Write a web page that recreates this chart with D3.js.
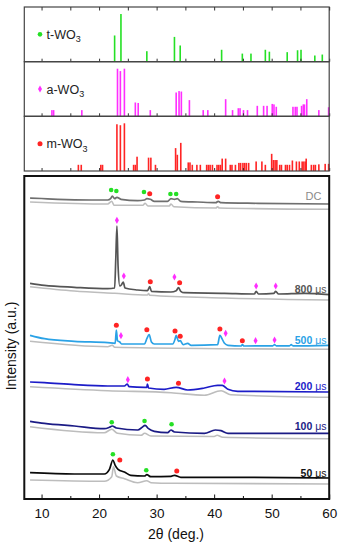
<!DOCTYPE html>
<html>
<head>
<meta charset="utf-8">
<script src="https://cdn.jsdelivr.net/npm/d3@7"></script>
<style>
    body { margin: 0; background: #fff; }
    svg text { font-family: Arial, "Liberation Sans", sans-serif; }
</style>
</head>
<body>
<div id="chart"></div>
<script>
// reference sticks: [2theta, relative intensity %]
var tSticks = [[22.7,55],[23.8,100],[28.3,22],[33.1,52],[34.1,34],[41.3,25],[44.9,17],[46.4,17],[48.9,25],[49.6,21],
    [52.7,20],[54.5,24],[55.1,25],[57.5,13],[58.8,15]];
var aSticks = [[11.8,13],[12.1,13],[17.0,13],[23.2,100],[23.7,95],[24.4,100],[26.3,29],[26.8,28],[28.9,13],[33.4,50],
    [33.9,53],[34.3,52],[35.7,34],[38.1,13],[38.9,13],[42.0,36],[43.2,13],[44.2,17],[44.5,17],[45.1,13],[45.8,13],
    [47.5,22],[48.6,22],[49.2,22],[50.1,26],[50.4,25],[50.8,20],[53.7,20],[54.1,20],[54.4,20],[55.2,22],[55.5,25],
    [55.7,25],[56.1,36],[58.2,13],[59.9,19]];
var mSticks = [[16.4,13],[16.9,13],[20.3,13],[20.6,13],[23.1,98],[23.7,96],[24.4,100],[26.0,13],[26.3,13],[26.6,30],
    [28.6,28],[29.0,28],[29.8,13],[33.3,48],[33.6,34],[34.2,59],[35.5,18],[35.8,18],[36.2,13],[37.0,13],[37.6,13],
    [38.7,13],[39.0,13],[39.3,13],[39.7,13],[40.5,13],[40.8,13],[41.1,13],[41.4,26],[42.0,26],[42.8,13],[43.1,13],
    [43.7,13],[44.3,17],[44.6,17],[45.0,17],[45.3,17],[45.6,17],[46.0,17],[47.3,20],[48.3,20],[48.9,13],[50.0,36],
    [50.3,23],[50.6,23],[50.9,23],[51.4,13],[51.7,13],[52.4,13],[52.7,13],[53.1,13],[53.6,22],[54.3,20],[54.8,20],
    [55.3,20],[55.6,20],[55.9,20],[56.0,26],[56.9,13],[57.3,13],[57.6,13],[58.2,14],[59.3,15],[59.9,15]];
var stickNames = ["t-WO", "a-WO", "m-WO"];

// measured patterns (offset intensity, a.u.)
var dcLine = [[8,301],[10,300.5],[12.8,299.7],[18.6,299],[21.5,299],[22.0,300.3],[22.3,303],[22.7,300.3],[23.1,301.7],
    [23.8,299.7],[26.7,298.3],[27.9,299],[28.3,300.3],[28.9,299.7],[29.6,297.7],[31.9,297.7],[32.5,300.3],[33.1,299.7],
    [33.6,300.3],[34.2,297.7],[37.1,297],[40.3,296.3],[40.7,297.7],[41.2,296.3],[47.6,295.7],[60,295]];
var dcRef = [[8,297],[21.5,295],[22.2,297.7],[22.6,293.7],[27.6,293.7],[28.0,295.7],[28.5,293],[32.2,293],[32.5,295],
    [33,292.3],[40.3,291],[40.6,292.3],[40.9,291],[60,289.7]];
var l800 = [[8,215.7],[10.5,213.7],[15.7,211.7],[21.5,210.3],[22.7,211],[22.9,239.7],[23.1,273],[23.3,233],[23.6,213],
    [23.9,214.3],[24.2,217],[24.5,211],[26.7,209],[28.4,208.3],[28.8,212.3],[29.1,207.7],[32.5,207],[33.4,208.3],
    [33.8,211.3],[34.2,207.7],[34.8,206.3],[41.8,205.7],[47.0,205],[47.3,207.7],[47.7,205],[50.4,205.7],[50.7,207.7],
    [51.2,205],[55.7,205.7],[60,204.3]];
var r800 = [[8,212.3],[15.7,208],[22.7,205.7],[28.4,204],[28.6,205.5],[28.8,203.7],[41.8,201],[60,199]];
var l500 = [[8,163.7],[10.5,160.3],[15.7,157.7],[21.5,156.3],[22.8,155.7],[23.0,169],[23.2,158.3],[23.6,157],[23.9,155],
    [27.9,155],[28.3,160.3],[28.7,164.3],[29.1,157],[29.6,155],[32.8,155],[33.2,159.7],[33.4,163.7],[33.8,157.7],
    [34.1,158.3],[34.6,154.3],[35.4,155.7],[36,153.7],[40.6,154.3],[41.0,163.7],[41.3,161],[41.8,155.7],[42.4,153.7],
    [44.7,153],[44.9,154.3],[45.2,153],[50.2,153.2],[50.5,154.3],[50.8,153.2],[53.1,153.2],[53.4,154.3],[53.7,153.2],
    [60,153.7]];
var r500 = [[8,157.7],[21.5,152.3],[22.3,153.7],[22.7,151.7],[41.8,150.3],[60,149.7]];
var l200 = [[8,117],[10.5,116.3],[15.7,114.3],[21.5,113],[24.4,113],[24.9,115],[25.2,112.3],[27.9,111.7],[28.3,111.7],
    [28.4,115],[28.6,111],[31.3,109.7],[33.4,111.7],[35.4,109],[38.3,111],[40.6,113.7],[41.4,113.7],[42.4,109.7],
    [44.1,107.7],[60,107]];
var r200 = [[8,112.3],[21.5,108.3],[32.5,106.3],[38.3,103.7],[41.2,108.3],[42.9,104.3],[60,101.7]];
var l100 = [[8,77.7],[10.5,75.7],[15.7,73],[20.9,70.3],[21.8,71.7],[22.3,73],[23.0,71],[26.7,69],[27.5,71.7],[28.0,73.7],
    [28.6,70.3],[29.6,67.7],[31.9,66.3],[32.5,69],[33.1,67],[38.3,65.7],[40.2,69],[41.2,68.3],[42.4,65.7],[60,65.7]];
var r100 = [[8,72.3],[20.9,66.3],[22.2,69.7],[23.2,65.7],[27.3,63.7],[27.9,65.7],[29,63],[40,62.5],[40.5,63.7],
    [41.5,61.7],[60,60.3]];
var l50 = [[8,26.3],[15.7,25],[20.9,25],[21.8,29.7],[22.4,39],[22.8,33.7],[23.3,29.7],[24.4,27],[25.5,23.7],[27.9,23],
    [28.3,24.3],[29,22.3],[32.5,22.7],[33.1,23.7],[34.2,21.7],[46.4,21.7],[60,21]];
var r50 = [[8,19],[20.9,17.7],[22.2,22.3],[22.5,32.3],[23,23],[24.4,20.3],[26.7,16.3],[28.3,18.3],[29,16.3],[33,15.7],
    [60,15]];

var seriesLabels = ["DC", "800", "500", "200", "100", "50"];

// phase markers: [2theta, level, phase]
var dcMarks = [[22.1,309,"t"],[23.0,308,"t"],[27.8,307,"t"],[28.8,305.3,"m"],[32.4,305,"t"],[33.4,305,"t"],[40.6,302.3,"m"]];
var m800 = [[23.1,278.7,"a"],[24.3,223,"a"],[28.9,217.3,"m"],[33.1,222,"a"],[34.0,216.3,"m"],[47.3,213,"a"],[50.7,213,"a"]];
var m500 = [[23.0,173.7,"m"],[23.8,163.3,"a"],[28.3,169.3,"m"],[33.2,168,"m"],[34.1,162.7,"m"],[41.0,170,"m"],
    [42.0,165.7,"a"],[44.9,158.3,"m"],[47.2,158.3,"a"],[50.5,159,"a"]];
var m200 = [[25.0,119.3,"a"],[28.4,120,"m"],[33.8,115.7,"m"],[41.8,118,"a"]];
var m100 = [[22.2,76.7,"t"],[27.9,78,"t"],[32.6,74.7,"t"]];
var m50 = [[22.4,44.7,"t"],[23.6,39,"m"],[28.2,28.7,"t"],[33.5,28,"m"]];

var xTicks = [10, 20, 30, 40, 50, 60];
var minorTicks = [15, 25, 35, 45, 55];

var w = 351, h = 550;
var svg = d3.select("#chart").append("svg")
    .attr("width", w)
    .attr("height", h);

var x = d3.scaleLinear().domain([7, 60]).range([24.3, 329.2]);

var phaseColor = {t: "#25e025", a: "#ff2eff", m: "#ff2424"};

function drawMarker(g, type, cx, cy) {
    if (type == "a") {
        g.append("path")
            .attr("d", "M0,-3.6L2,0L0,3.6L-2,0Z")
            .attr("transform", "translate(" + cx + "," + cy + ")")
            .attr("fill", phaseColor.a);
    } else {
        g.append("circle")
            .attr("cx", cx).attr("cy", cy)
            .attr("r", type == "t" ? 2.3 : 2.5)
            .attr("fill", phaseColor[type]);
    }
}

//Top stick panels
var panelTops = [7, 61.7, 116.3, 171];
var stickSets = [tSticks, aSticks, mSticks];
var phaseKeys = ["t", "a", "m"];

stickSets.forEach(function (sticks, i) {
    var top = panelTops[i], bottom = panelTops[i + 1];
    var y = d3.scaleLinear().domain([0, 114.7]).range([bottom, top]);
    var g = svg.append("g");

    g.selectAll("rect")
        .data(sticks)
        .enter()
        .append("rect")
        .attr("x", function (d) { return x(d[0]) - 0.8; })
        .attr("width", 1.6)
        .attr("y", function (d) { return y(d[1]); })
        .attr("height", function (d) { return bottom - y(d[1]); })
        .attr("fill", phaseColor[phaseKeys[i]]);

    // ticks along the bottom of each panel
    g.append("g")
        .attr("transform", "translate(0," + bottom + ")")
        .call(d3.axisBottom(x).tickValues(xTicks.concat(minorTicks)).tickSize(-3).tickFormat(""))
        .call(function (a) { a.select(".domain").remove(); a.selectAll("line").attr("stroke", "#333"); });

    g.append("rect")
        .attr("x", x(7)).attr("y", top)
        .attr("width", x(60) - x(7)).attr("height", bottom - top)
        .attr("fill", "none").attr("stroke", "#444").attr("stroke-width", 1.2);

    var cy = top + (bottom - top) * 0.5;
    drawMarker(g, phaseKeys[i], 40, cy);
    var t = g.append("text")
        .attr("x", 46.5).attr("y", cy + 4.5)
        .attr("font-size", 12.5).attr("fill", "#222")
        .text(stickNames[i]);
    t.append("tspan").attr("font-size", 9).attr("dy", 3.5).text("3");
});

svg.append("g")
    .attr("transform", "translate(0," + panelTops[0] + ")")
    .call(d3.axisTop(x).tickValues(xTicks.concat(minorTicks)).tickSize(-3.5).tickFormat(""))
    .call(function (a) { a.select(".domain").remove(); a.selectAll("line").attr("stroke", "#333"); });

//Main XRD panel
var mainTop = 176, mainBottom = 499;
var yMain = d3.scaleLinear().domain([0, 323]).range([mainBottom, mainTop]);

var line = d3.line()
    .x(function (d) { return x(d[0]); })
    .y(function (d) { return yMain(d[1]); })
    .curve(d3.curveMonotoneX);

var refLines = [dcRef, r800, r500, r200, r100, r50];
var dataLines = [dcLine, l800, l500, l200, l100, l50];
var markSets = [dcMarks, m800, m500, m200, m100, m50];
var lineColors = ["#6f6f6f", "#555555", "#2aa2e6", "#1c1cc8", "#1b1b85", "#0a0a0a"];
var labelColors = ["#8a8a8a", "#555555", "#2aa2e6", "#1c1cc8", "#1b1b85", "#111111"];
var labelLevels = [303, 209.7, 158.3, 112.3, 72.3, 25.7];

svg.selectAll("path.ref")
    .data(refLines)
    .enter()
    .append("path")
    .attr("class", "ref")
    .attr("d", line)
    .attr("fill", "none")
    .attr("stroke", "#bdbdbd")
    .attr("stroke-width", 1.6);

svg.selectAll("path.pattern")
    .data(dataLines)
    .enter()
    .append("path")
    .attr("class", "pattern")
    .attr("d", line)
    .attr("fill", "none")
    .attr("stroke", function (d, i) { return lineColors[i]; })
    .attr("stroke-width", 1.7);

var markG = svg.append("g");
markSets.forEach(function (marks) {
    marks.forEach(function (m) {
        drawMarker(markG, m[2], x(m[0]), yMain(m[1]));
    });
});

seriesLabels.forEach(function (lab, i) {
    if (lab == "DC") {
        svg.append("text")
            .attr("x", 321.5).attr("y", yMain(labelLevels[i]) + 4)
            .attr("text-anchor", "end")
            .attr("font-size", 11).attr("fill", labelColors[i])
            .text(lab);
    } else {
        var t = svg.append("text")
            .attr("x", 326.5).attr("y", yMain(labelLevels[i]) + 3.5)
            .attr("text-anchor", "end")
            .attr("font-size", 10.5).attr("font-weight", "bold")
            .attr("fill", labelColors[i])
            .style("font-family", "'Liberation Sans Narrow', 'Arial Narrow', sans-serif")
            .text(lab + " ");
        t.append("tspan").attr("font-weight", "normal").text("\u03bcs");
    }
});

// bottom axis
svg.append("g")
    .attr("transform", "translate(0," + mainBottom + ")")
    .call(d3.axisBottom(x).tickValues(xTicks).tickSize(-4.5).tickPadding(9).tickFormat(d3.format("d")))
    .call(function (a) {
        a.select(".domain").remove();
        a.selectAll("line").attr("stroke", "#111");
        a.selectAll("text").attr("font-size", 13.5).attr("fill", "#111").style("font-family", "Arial, 'Liberation Sans', sans-serif");
    });
svg.append("g")
    .attr("transform", "translate(0," + mainBottom + ")")
    .call(d3.axisBottom(x).tickValues(minorTicks).tickSize(-3).tickFormat(""))
    .call(function (a) { a.select(".domain").remove(); a.selectAll("line").attr("stroke", "#111"); });

svg.append("rect")
    .attr("x", x(7)).attr("y", mainTop)
    .attr("width", x(60) - x(7)).attr("height", mainBottom - mainTop)
    .attr("fill", "none").attr("stroke", "#111").attr("stroke-width", 2);

svg.append("text")
    .attr("x", 176).attr("y", 539)
    .attr("text-anchor", "middle")
    .attr("font-size", 14).attr("fill", "#111")
    .text("2\u03b8 (deg.)");

svg.append("text")
    .attr("transform", "translate(16," + 346 + ") rotate(-90)")
    .attr("text-anchor", "middle")
    .attr("font-size", 14).attr("fill", "#111")
    .text("Intensity (a.u.)");
</script>
</body>
</html>
